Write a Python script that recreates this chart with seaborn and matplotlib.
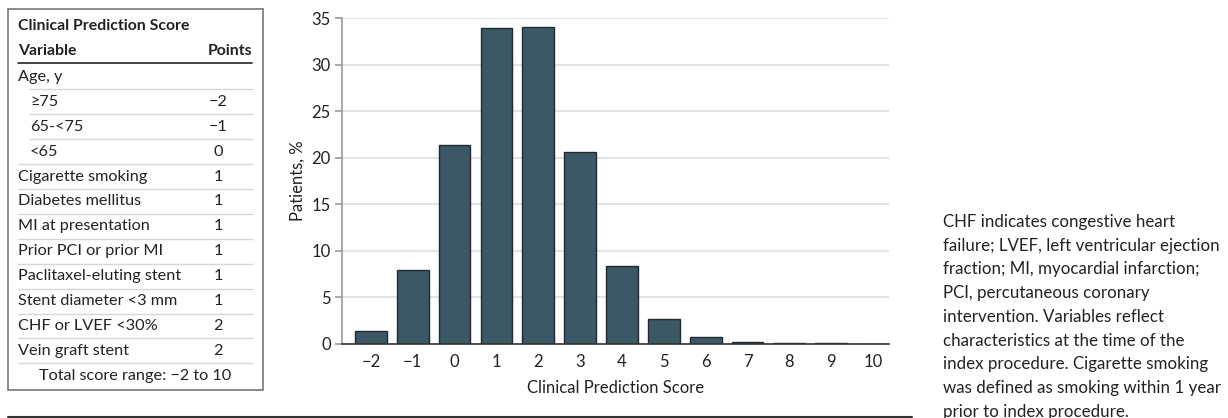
import numpy as np
import pandas as pd
import seaborn as sns
import matplotlib.pyplot as plt
from matplotlib.lines import Line2D
from matplotlib.patches import Rectangle

# histogram data
scores = ["\u22122", "\u22121", "0", "1", "2", "3", "4", "5", "6", "7", "8", "9", "10"]
patients_pct = [1.4, 7.9, 21.4, 33.9, 34.0, 20.6, 8.4, 2.7, 0.8, 0.2, 0.1, 0.15, 0.0]

# score table
table_vars = ["Age, y", "\u226575", "65-<75", "<65", "Cigarette smoking", "Diabetes mellitus",
              "MI at presentation", "Prior PCI or prior MI", "Paclitaxel-eluting stent",
              "Stent diameter <3 mm", "CHF or LVEF <30%", "Vein graft stent"]
table_points = ["", "\u22122", "\u22121", "0", "1", "1", "1", "1", "1", "1", "2", "2"]
table_indent = [False, True, True, True, False, False, False, False, False, False, False, False]

note_lines = ["CHF indicates congestive heart",
              "failure; LVEF, left ventricular ejection",
              "fraction; MI, myocardial infarction;",
              "PCI, percutaneous coronary",
              "intervention. Variables reflect",
              "characteristics at the time of the",
              "index procedure. Cigarette smoking",
              "was defined as smoking within 1 year",
              "prior to index procedure."]

sns.set_style("white")
plt.rcParams['font.family'] = ['Lato', 'DejaVu Sans']

W, H = 1228, 418
fig = plt.figure(figsize=(W / 100, H / 100), dpi=100)
TXT = "#222222"
FS_TAB = 11.7
FS_AX = 12


def fx(x):
    return x / W


def fy(y):
    return 1 - y / H


# ---- bar chart ----
ax = fig.add_axes([fx(342), fy(344), fx(889) - fx(342), fy(18) - fy(344)])
df = pd.DataFrame({"score": scores, "pct": patients_pct})
sns.barplot(data=df, x="score", y="pct", color="#3a5866", saturation=1,
            edgecolor="#1f2b31", linewidth=1, width=0.76, ax=ax)
ax.set_xlim(-0.69, 12.38)
ax.set_ylim(0, 35)
ax.set_yticks(range(0, 36, 5))
ax.yaxis.grid(True, color="#e4e4e4", lw=1.5)
ax.set_axisbelow(True)
for s in ["top", "right"]:
    ax.spines[s].set_visible(False)
ax.spines["left"].set_color("#999999")
ax.spines["left"].set_linewidth(1.2)
ax.spines["bottom"].set_color("#333333")
ax.spines["bottom"].set_linewidth(1.2)
ax.tick_params(axis="y", left=True, length=5, color="#999999", width=1.2, pad=3,
               labelsize=FS_AX, labelcolor=TXT)
ax.tick_params(axis="x", bottom=False, pad=4, labelsize=FS_AX, labelcolor=TXT)
ax.set_ylabel("Patients, %", fontsize=FS_AX, color=TXT)
ax.set_xlabel("Clinical Prediction Score", fontsize=FS_AX, color=TXT)
ax.yaxis.set_label_coords(-0.082, 0.5)
ax.xaxis.set_label_coords(0.5, -0.135)
ax.xaxis.label.set_va("center")
ax.yaxis.label.set_va("center")

# ---- score table ----
fig.patches.append(Rectangle((fx(8), fy(390)), fx(263) - fx(8), fy(9) - fy(390),
                             transform=fig.transFigure, fill=False,
                             edgecolor="#777777", lw=1.2))
tx0, tx1, tpts = 18, 252, 218
fig.text(fx(tx0), fy(26), "Clinical Prediction Score", fontweight="bold",
         va="center", fontsize=11.4, color=TXT)
fig.text(fx(tx0), fy(51), "Variable", fontweight="bold", va="center",
         fontsize=11.4, color=TXT)
fig.text(fx(tx1), fy(51), "Points", fontweight="bold", va="center", ha="right",
         fontsize=11.4, color=TXT)
fig.lines.append(Line2D([fx(tx0), fx(tx1)], [fy(63), fy(63)], transform=fig.transFigure,
                        color=TXT, lw=1.2))
row_y0, row_h = 77, 24.9
for i, (name, pts, ind) in enumerate(zip(table_vars, table_points, table_indent)):
    y = row_y0 + i * row_h
    xl = tx0 + (12 if ind else 0)
    fig.text(fx(xl), fy(y), name, va="center", fontsize=FS_TAB, color=TXT)
    fig.text(fx(tpts), fy(y), pts, va="center", ha="center", fontsize=FS_TAB, color=TXT)
    sep_x = tx0 + (12 if (i < len(table_vars) - 1 and table_indent[i + 1]) else 0)
    fig.lines.append(Line2D([fx(sep_x), fx(tx1)], [fy(y + row_h / 2)] * 2,
                            transform=fig.transFigure, color="#d6d6d6", lw=1))
fig.text(fx(135), fy(row_y0 + len(table_vars) * row_h), "Total score range: \u22122 to 10",
         va="center", ha="center", fontsize=FS_TAB, color=TXT)

# ---- note ----
for i, line in enumerate(note_lines):
    fig.text(fx(943), fy(222 + i * 23.7), line, va="center", fontsize=12.2, color=TXT)

# bottom rule
fig.lines.append(Line2D([fx(8), fx(912)], [fy(417), fy(417)], transform=fig.transFigure,
                        color="#333333", lw=1.5))

fig.savefig("out.png", dpi=100)
